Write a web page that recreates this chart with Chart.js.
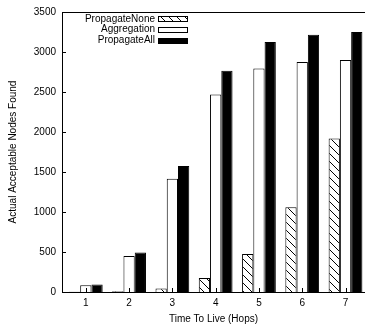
<!DOCTYPE html>
<html><head><meta charset="utf-8">
<script src="https://cdn.jsdelivr.net/npm/chart.js@4/dist/chart.umd.min.js"></script>
<style>html,body{margin:0;padding:0;background:#fff}#wrap{width:365px;height:326px;position:relative}</style>
</head><body><div id="wrap"><canvas id="c" width="365" height="326"></canvas></div>
<script>
const hops = [1, 2, 3, 4, 5, 6, 7];
const propagateNone = [3, 8, 45, 175, 475, 1060, 1920];
const aggregation = [85, 450, 1415, 2470, 2795, 2875, 2900];
const propagateAll = [95, 495, 1575, 2765, 3125, 3215, 3250];
const yTicks = [0, 500, 1000, 1500, 2000, 2500, 3000, 3500];
const seriesLabels = ['PropagateNone', 'Aggregation', 'PropagateAll'];
const yTitle = 'Actual Acceptable Nodes Found';
const xTitle = 'Time To Live (Hops)';

const FONT = "'Liberation Sans', Arial, Helvetica, sans-serif";
const canvas = document.getElementById('c');
const ctx = canvas.getContext('2d');

function hatchPattern() {
  const c = document.createElement('canvas');
  c.width = 8; c.height = 8;
  const g = c.getContext('2d');
  g.fillStyle = '#fff'; g.fillRect(0, 0, 8, 8);
  g.strokeStyle = '#000'; g.lineWidth = 1;
  g.beginPath();
  g.moveTo(-1, -1); g.lineTo(9, 9);
  g.moveTo(-1, 7); g.lineTo(1, 9);
  g.moveTo(7, -1); g.lineTo(9, 1);
  g.stroke();
  return ctx.createPattern(c, 'repeat');
}
const hatch = hatchPattern();
const fills = [hatch, '#ffffff', '#000000'];
const seriesValues = [propagateNone, aggregation, propagateAll];

const datasets = seriesLabels.map((lab, k) => ({
  label: lab,
  data: hops.map((h, i) => ({ x: h, y: seriesValues[k][i] })),
  backgroundColor: fills[k],
  borderColor: '#000',
  borderWidth: 1,
  borderSkipped: 'start'
}));

const framePlugin = {
  id: 'frame',
  afterDatasetsDraw(chart) {
    const c = chart.ctx, a = chart.chartArea;
    const xs = chart.scales.x, ys = chart.scales.y;
    c.save();
    c.strokeStyle = '#000'; c.lineWidth = 1;
    c.beginPath();
    c.moveTo(a.left, a.top + 0.5); c.lineTo(a.right, a.top + 0.5);
    yTicks.forEach(v => {
      const y = Math.round(ys.getPixelForValue(v)) + 0.5;
      c.moveTo(a.left, y); c.lineTo(a.left + 4, y);
    });
    hops.forEach(h => {
      const x = Math.round(xs.getPixelForValue(h)) + 0.5;
      c.moveTo(x, a.bottom); c.lineTo(x, a.bottom - 4);
    });
    c.stroke();
    // legend
    c.font = '10px ' + FONT;
    c.textAlign = 'right';
    c.textBaseline = 'middle';
    c.fillStyle = '#000';
    const rowY = [19, 29.5, 40.5];
    seriesLabels.forEach((lab, k) => {
      const y = rowY[k];
      c.fillText(lab, 155, y);
      c.fillStyle = fills[k];
      c.fillRect(158, Math.round(y - 3), 30, 6);
      c.strokeRect(158.5, Math.round(y - 3) + 0.5, 29, 5);
      c.fillStyle = '#000';
    });
    c.restore();
  }
};

new Chart(ctx, {
  type: 'bar',
  data: { datasets },
  options: {
    responsive: false,
    animation: false,
    layout: { padding: { top: 10, right: 0, left: 0, bottom: 0 } },
    plugins: { legend: { display: false }, tooltip: { enabled: false } },
    datasets: { bar: { categoryPercentage: 0.78, barPercentage: 1 } },
    scales: {
      x: {
        type: 'linear', min: 0.45, max: 7.45, offset: false,
        afterBuildTicks(s) { s.ticks = hops.map(v => ({ value: v })); },
        grid: { display: false, drawTicks: false },
        border: { display: true, color: '#000', width: 1 },
        ticks: { color: '#000', padding: 5, autoSkip: false, maxRotation: 0,
          font: { family: FONT, size: 10 }, callback: v => String(v) },
        title: { display: true, text: xTitle, color: '#000',
          font: { family: FONT, size: 10 }, padding: { top: 0, bottom: 1 } },
        afterFit(s) { s.height = 34; }
      },
      y: {
        min: 0, max: 3500,
        afterBuildTicks(s) { s.ticks = yTicks.map(v => ({ value: v })); },
        grid: { display: false, drawTicks: false },
        border: { display: true, color: '#000', width: 1 },
        ticks: { color: '#000', padding: 6,
          font: { family: FONT, size: 10 }, callback: v => String(v) },
        title: { display: true, text: yTitle, color: '#000',
          font: { family: FONT, size: 10 }, padding: { top: 7, bottom: 0 } },
        afterFit(s) { s.width = 62; }
      }
    }
  },
  plugins: [framePlugin]
});
</script></body></html>
